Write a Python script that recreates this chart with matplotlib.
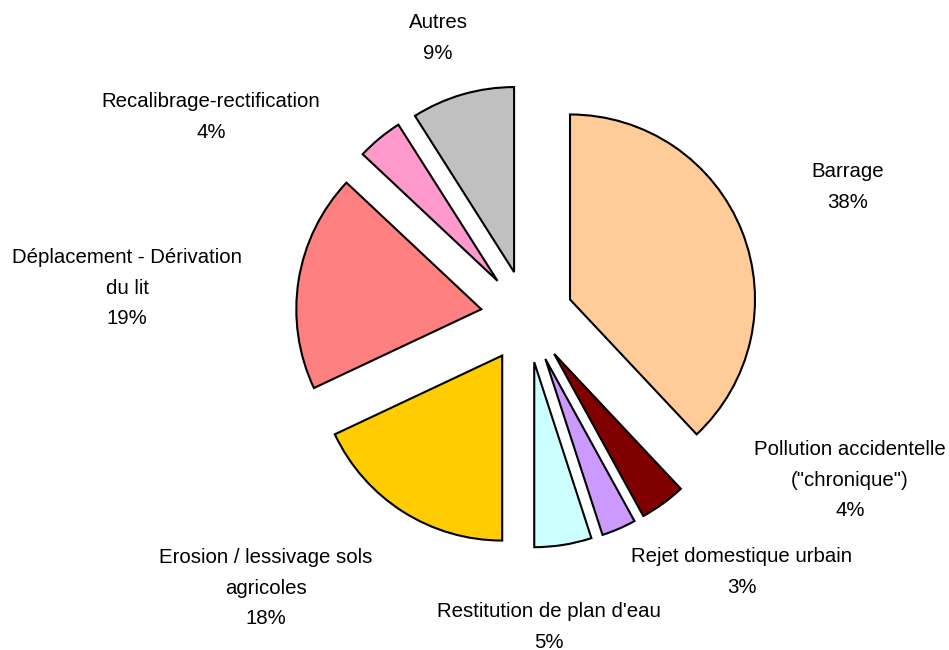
import numpy as np
from matplotlib import pyplot as plt

plt.rcParams["font.family"] = ["Liberation Sans", "DejaVu Sans"]

# Data, clockwise from the top
categories = [
    "Barrage",
    "Pollution accidentelle\n(\"chronique\")",
    "Rejet domestique urbain",
    "Restitution de plan d'eau",
    "Erosion / lessivage sols\nagricoles",
    "Déplacement - Dérivation\ndu lit",
    "Recalibrage-rectification",
    "Autres",
]
shares = [38, 4, 3, 5, 18, 19, 4, 9]
colors = ["#FFCC99", "#800000", "#CC99FF", "#CCFFFF",
          "#FFCC00", "#FF8080", "#FF99CC", "#C0C0C0"]

# Layout (pixels in a 949x650 image)
W, H = 949, 650
cx, cy, r = 527, 316.5, 185
label_pos = [(848, 187), (850, 480), (742, 572), (549, 627),
             (266, 588), (127, 288), (211, 117), (438, 38)]

fig = plt.figure(figsize=(W / 100, H / 100), dpi=100)
ax = fig.add_axes([0, 0, 1, 1])

ax.pie(
    shares,
    colors=colors,
    startangle=90,
    counterclock=False,
    radius=1,
    explode=[0.25] * len(shares),
    wedgeprops=dict(edgecolor="black", linewidth=1.5),
)

ax.set_xlim(-cx / r, (W - cx) / r)
ax.set_ylim(-(H - cy) / r, cy / r)
ax.set_aspect("equal")
ax.axis("off")

for name, share, (px, py) in zip(categories, shares, label_pos):
    ax.text((px - cx) / r, (cy - py) / r, f"{name}\n{share}%",
            ha="center", va="center", fontsize=14.7, linespacing=1.74)

fig.savefig("out.png", dpi=100)
